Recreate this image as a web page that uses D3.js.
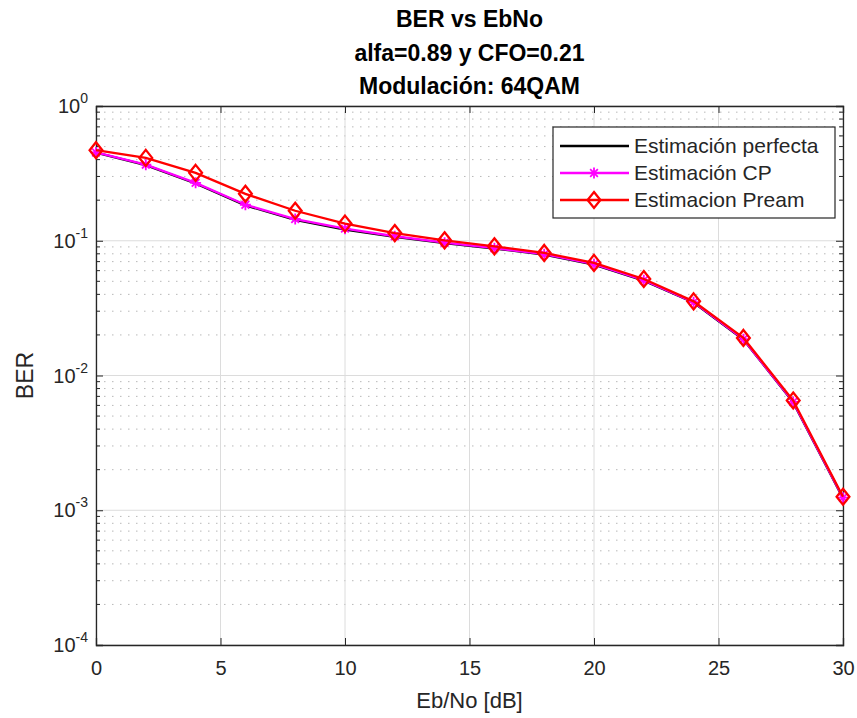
<!DOCTYPE html>
<html>
<head>
<meta charset="utf-8">
<script src="https://cdn.jsdelivr.net/npm/d3@7"></script>
<style>
  body { margin: 0; background: #fff; }
  text { font-family: "Liberation Sans", Arial, sans-serif; }
</style>
</head>
<body>
<div id="chart"></div>
<script>
// Eb/No points (dB)
const ebno = [0, 2, 4, 6, 8, 10, 12, 14, 16, 18, 20, 22, 24, 26, 28, 30];

// BER per estimation method
const berPerfect = [0.450, 0.364, 0.266, 0.183, 0.143, 0.121, 0.107, 0.0960, 0.0875, 0.0790, 0.0666, 0.0506, 0.0348, 0.0185, 0.00632, 0.00123];
const berCP      = [0.452, 0.367, 0.269, 0.185, 0.145, 0.123, 0.108, 0.0968, 0.0881, 0.0795, 0.0670, 0.0509, 0.0350, 0.0186, 0.00637, 0.00124];
const berPream   = [0.470, 0.412, 0.319, 0.223, 0.167, 0.134, 0.114, 0.1007, 0.0909, 0.0812, 0.0685, 0.0520, 0.0355, 0.0190, 0.00652, 0.00126];

const xTicks = [0, 5, 10, 15, 20, 25, 30];
const yTicks = [1, 1e-1, 1e-2, 1e-3, 1e-4];
const titleLines = ["BER vs EbNo", "alfa=0.89 y CFO=0.21", "Modulación: 64QAM"];
const legendLabels = ["Estimación perfecta", "Estimación CP", "Estimacion Pream"];

const W = 857, H = 718;
const margin = {top: 106, right: 14, bottom: 73, left: 96},
    width = W - margin.left - margin.right,
    height = H - margin.top - margin.bottom;

const svg = d3.select("#chart").append("svg")
    .attr("width", W)
    .attr("height", H);

const g = svg.append("g")
    .attr("transform", "translate(" + margin.left + "," + margin.top + ")");

const x = d3.scaleLinear().domain([0, 30]).range([0, width]);
const y = d3.scaleLog().domain([1e-4, 1]).range([height, 0]);

const axisColor = "#262626";

// minor ticks of the log axis (2..9 each decade)
const minor = [];
for (let e = -4; e < 0; e++) {
    for (let m = 2; m <= 9; m++) minor.push(m * Math.pow(10, e));
}

// grid
g.append("g").selectAll("line")
    .data(minor)
    .enter().append("line")
    .attr("x1", 0).attr("x2", width)
    .attr("y1", d => y(d)).attr("y2", d => y(d))
    .attr("stroke", "#b8b8b8")
    .attr("stroke-width", 1)
    .attr("stroke-dasharray", "1.5,6.5");

g.append("g").selectAll("line")
    .data(yTicks)
    .enter().append("line")
    .attr("x1", 0).attr("x2", width)
    .attr("y1", d => y(d)).attr("y2", d => y(d))
    .attr("stroke", "#dcdcdc");

g.append("g").selectAll("line")
    .data(xTicks)
    .enter().append("line")
    .attr("x1", d => x(d)).attr("x2", d => x(d))
    .attr("y1", 0).attr("y2", height)
    .attr("stroke", "#dcdcdc");

// axes (ticks pointing inward, box on)
const bottomAxis = d3.axisBottom(x).tickValues(xTicks).tickSize(-7).tickPadding(16).tickFormat(d3.format("d"));
const topAxis = d3.axisTop(x).tickValues(xTicks).tickSize(-7).tickFormat("");
const leftAxis = d3.axisLeft(y).tickValues(yTicks).tickSize(-7).tickFormat("");
const rightAxis = d3.axisRight(y).tickValues(yTicks).tickSize(-7).tickFormat("");

function styleAxis(sel) {
    sel.select(".domain").attr("stroke", axisColor).attr("stroke-width", 1.3);
    sel.selectAll(".tick line").attr("stroke", axisColor);
    sel.selectAll("text").attr("fill", axisColor).attr("font-size", 20)
        .style("font-family", "'Liberation Sans', Arial, sans-serif");
}

g.append("g").attr("transform", "translate(0," + height + ")").call(bottomAxis).call(styleAxis);
g.append("g").call(topAxis).call(styleAxis);
g.append("g").call(leftAxis).call(styleAxis);
g.append("g").attr("transform", "translate(" + width + ",0)").call(rightAxis).call(styleAxis);

// minor tick marks on left/right
[0, width].forEach(xp => {
    const dir = xp === 0 ? 1 : -1;
    g.append("g").selectAll("line")
        .data(minor)
        .enter().append("line")
        .attr("x1", xp).attr("x2", xp + dir * 4)
        .attr("y1", d => y(d)).attr("y2", d => y(d))
        .attr("stroke", axisColor);
});

// y tick labels as 10^n
const yLab = g.append("g").selectAll("text")
    .data(yTicks)
    .enter().append("text")
    .attr("x", -8)
    .attr("y", d => y(d) + 7)
    .attr("text-anchor", "end")
    .attr("fill", axisColor)
    .attr("font-size", 20);
yLab.append("tspan").text("10");
yLab.append("tspan")
    .attr("dy", -10)
    .attr("font-size", 14)
    .text(d => String(Math.round(Math.log10(d))));

// series
const line = d3.line()
    .x((d, i) => x(ebno[i]))
    .y(d => y(d));

g.append("path").datum(berPerfect)
    .attr("d", line).attr("fill", "none")
    .attr("stroke", "#000").attr("stroke-width", 2.3);

g.append("path").datum(berCP)
    .attr("d", line).attr("fill", "none")
    .attr("stroke", "#ff00ff").attr("stroke-width", 2.3);

function asterisk(sel, r) {
    sel.append("path")
        .attr("d", `M${-r},0H${r}M0,${-r}V${r}M${-r * 0.7},${-r * 0.7}L${r * 0.7},${r * 0.7}M${-r * 0.7},${r * 0.7}L${r * 0.7},${-r * 0.7}`)
        .attr("stroke", "#ff00ff").attr("stroke-width", 1.8).attr("fill", "none");
}

g.append("g").selectAll("g")
    .data(berCP)
    .enter().append("g")
    .attr("transform", (d, i) => "translate(" + x(ebno[i]) + "," + y(d) + ")")
    .call(asterisk, 5.5);

g.append("path").datum(berPream)
    .attr("d", line).attr("fill", "none")
    .attr("stroke", "#ff0000").attr("stroke-width", 2.3);

function diamond(sel, r) {
    sel.append("path")
        .attr("d", `M0,${-r}L${r * 0.8},0L0,${r}L${-r * 0.8},0Z`)
        .attr("stroke", "#ff0000").attr("stroke-width", 2.3).attr("fill", "none");
}

g.append("g").selectAll("g")
    .data(berPream)
    .enter().append("g")
    .attr("transform", (d, i) => "translate(" + x(ebno[i]) + "," + y(d) + ")")
    .call(diamond, 8);

// title
svg.append("g").selectAll("text")
    .data(titleLines)
    .enter().append("text")
    .attr("x", margin.left + width / 2)
    .attr("y", (d, i) => 27 + i * 33.5)
    .attr("text-anchor", "middle")
    .attr("font-weight", "bold")
    .attr("font-size", 23)
    .attr("fill", "#000")
    .text(d => d);

// axis labels
svg.append("text")
    .attr("x", margin.left + width / 2)
    .attr("y", 708)
    .attr("text-anchor", "middle")
    .attr("font-size", 22)
    .attr("fill", axisColor)
    .text("Eb/No [dB]");

svg.append("text")
    .attr("transform", "translate(33," + (margin.top + height / 2) + ") rotate(-90)")
    .attr("text-anchor", "middle")
    .attr("font-size", 23)
    .attr("fill", axisColor)
    .text("BER");

// legend
const lg = svg.append("g").attr("transform", "translate(553,127)");
lg.append("rect")
    .attr("width", 282).attr("height", 91)
    .attr("fill", "#fff").attr("stroke", axisColor).attr("stroke-width", 1.2);

const colors = ["#000", "#ff00ff", "#ff0000"];
const items = lg.selectAll(".item")
    .data(legendLabels)
    .enter().append("g")
    .attr("class", "item")
    .attr("transform", (d, i) => "translate(0," + (19 + i * 27) + ")");

items.append("line")
    .attr("x1", 7).attr("x2", 76)
    .attr("stroke", (d, i) => colors[i]).attr("stroke-width", 2.3);

items.append("text")
    .attr("x", 81).attr("y", 7)
    .attr("font-size", 21)
    .attr("fill", axisColor)
    .text(d => d);

items.filter((d, i) => i === 1).append("g")
    .attr("transform", "translate(41,0)").call(asterisk, 5.5);
items.filter((d, i) => i === 2).append("g")
    .attr("transform", "translate(41,0)").call(diamond, 8);
</script>
</body>
</html>
